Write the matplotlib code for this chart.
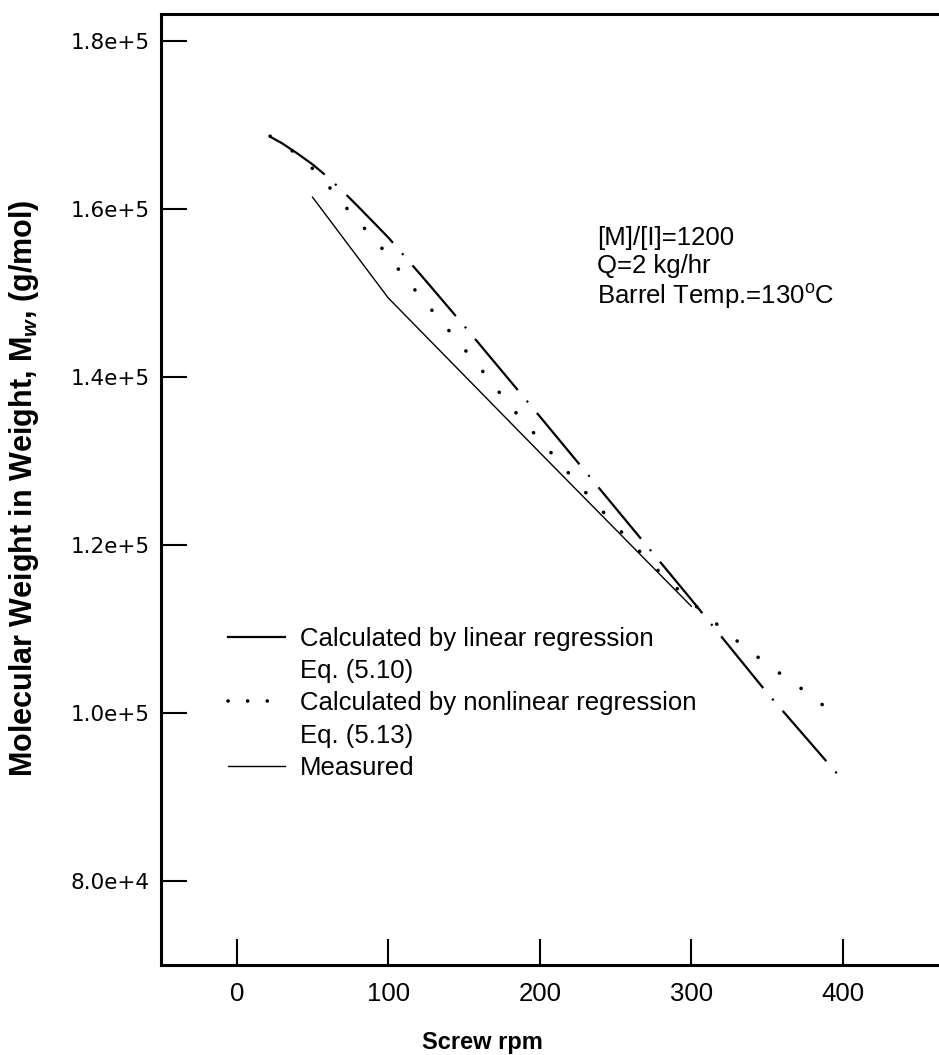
import matplotlib
matplotlib.use("Agg")
import matplotlib.pyplot as plt
from matplotlib.lines import Line2D

# values
lin_rpm = [22, 30, 40, 50, 60, 70, 80, 100, 125, 150, 175, 200, 250, 300, 350, 400]
lin_mw = [168600, 167800, 166600, 165300, 163800, 162100, 160300, 156600,
          151400, 146100, 140700, 135300, 124400, 113500, 102400, 92000]

nonlin_rpm = [22, 36, 49, 61, 72, 95, 116, 138, 160, 181, 204, 225, 250, 275, 300, 325, 350, 375, 395]
nonlin_mw = [168650, 167000, 165000, 162600, 160200, 155500, 150700, 145950, 141200,
             136400, 131700, 127300, 122300, 117500, 113200, 109300, 105800, 102600, 99800]

meas_rpm = [50, 100, 200, 300]
meas_mw = [161400, 149400, 131000, 112700]

xticks = [0, 100, 200, 300, 400]
yticks = [80000, 100000, 120000, 140000, 160000, 180000]
ytick_labels = ["8.0e+4", "1.0e+5", "1.2e+5", "1.4e+5", "1.6e+5", "1.8e+5"]

plt.rcParams["font.family"] = ["Liberation Sans", "DejaVu Sans"]
plt.rcParams["lines.scale_dashes"] = False
plt.rcParams["mathtext.fontset"] = "custom"
plt.rcParams["mathtext.rm"] = "Liberation Sans"
plt.rcParams["mathtext.it"] = "Liberation Sans:italic"
plt.rcParams["mathtext.bf"] = "Liberation Sans:bold:italic"

W, H = 939, 1055
fig = plt.figure(figsize=(W / 100, H / 100), dpi=100)
ax = fig.add_axes([161 / W, 1 - 965 / H, 1 - 161 / W, (965 - 14) / H])

# dash-dot for the linear fit, sparse round dots for the nonlinear fit
dashdot = (0, (48, 10, 1.5, 10))
ax.plot(lin_rpm, lin_mw, color="black", lw=1.6, linestyle=dashdot)
ax.plot(nonlin_rpm, nonlin_mw, color="black", lw=2.6, linestyle=(0, (0.1, 19)),
        dash_capstyle="round")
ax.plot(meas_rpm, meas_mw, color="black", lw=1.0)

ax.set_xlim(-50, 463.5)
ax.set_ylim(70000, 183200)
ax.set_xticks(xticks)
ax.set_xticklabels([str(t) for t in xticks], fontsize=18.5)
ax.set_yticks(yticks)
ax.set_yticklabels(ytick_labels, fontsize=15.5, family="DejaVu Sans")
ax.tick_params(axis="both", direction="in", length=19, width=1.5, color="black")
ax.tick_params(axis="x", pad=12)
ax.tick_params(axis="y", pad=8)

for side in ["left", "bottom", "top"]:
    ax.spines[side].set_linewidth(2.2)
ax.spines["right"].set_visible(False)

ax.text(238, 158000, "[M]/[I]=1200\nQ=2 kg/hr\nBarrel Temp.=130$^\\mathrm{o}$C",
        fontsize=18.5, ha="left", va="top", linespacing=1.2)

blank = Line2D([], [], color="none")
handles = [
    Line2D([], [], color="black", lw=1.6),
    blank,
    Line2D([], [], color="black", lw=2.6, linestyle=(0, (0.1, 14)), dash_capstyle="round"),
    blank,
    Line2D([], [], color="black", lw=1.0),
]
labels = ["Calculated by linear regression", "Eq. (5.10)",
          "Calculated by nonlinear regression", "Eq. (5.13)", "Measured"]
ax.legend(handles, labels, loc="upper left", bbox_to_anchor=((228 - 161) / 778, (965 - 627) / 951),
          frameon=False, fontsize=18.5, handlelength=2.2, handletextpad=0.6,
          borderpad=0, borderaxespad=0, labelspacing=0.32)

fig.text(24 / W, 1 - 488 / H, "Molecular Weight in Weight, M$_\\mathbf{w}$, (g/mol)",
         rotation=90, ha="center", va="center", fontsize=22, fontweight="bold")
fig.text(482 / W, 1 - 1042 / H, "Screw rpm", ha="center", va="center",
         fontsize=17, fontweight="bold")

fig.savefig("out.png", dpi=100)
